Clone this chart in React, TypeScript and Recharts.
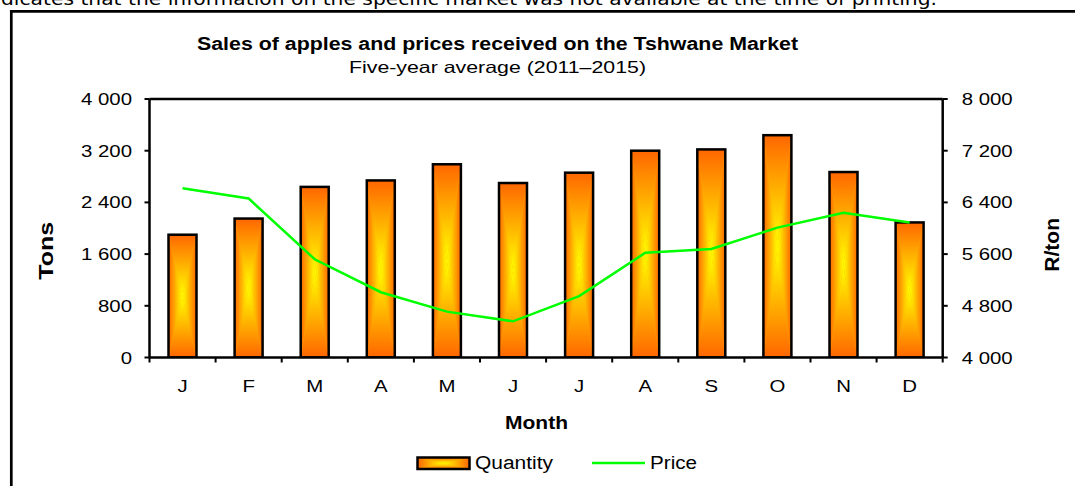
import React from "react";
import { ComposedChart, Bar, Line, XAxis, YAxis, ReferenceLine } from "recharts";

const months = ["J", "F", "M", "A", "M", "J", "J", "A", "S", "O", "N", "D"];
const quantity = [1900, 2150, 2640, 2740, 2990, 2700, 2860, 3200, 3220, 3440, 2870, 2090];
const price = [6620, 6460, 5520, 5010, 4710, 4560, 4950, 5620, 5680, 6010, 6240, 6090];
const tonTicks = [0, 800, 1600, 2400, 3200, 4000];
const priceTicks = [4000, 4800, 5600, 6400, 7200, 8000];

const data = months.map((m, i) => ({ i, month: m, quantity: quantity[i], price: price[i] }));

const W = 1075;
const H = 486;
// plot area edges
const PL = 149.5;
const PR = 942.7;
const PT = 99;
const PB = 357.5;
const AXW = 80;
const XH = 40;
const band = (PR - PL) / months.length;

const FONT = "'Liberation Sans', Arial, sans-serif";
const SX = 1.2; // the source is a bit wider than tall

const fmt = (n: number) => String(n).replace(/\B(?=(\d{3})+(?!\d))/g, " ");

const stretch = (x: number) => `translate(${x},0) scale(${SX},1) translate(${-x},0)`;

const YTick = (props: any) => {
  const { x, y, payload, textAnchor } = props;
  return (
    <text x={x} y={y} dy="0.355em" textAnchor={textAnchor} fontSize={17} fontFamily={FONT} fill="#000" transform={stretch(x)}>
      {fmt(payload.value)}
    </text>
  );
};

const XTick = (props: any) => {
  const { x, y, payload, index } = props;
  return (
    <g>
      <line x1={x - band / 2} x2={x - band / 2} y1={PB} y2={PB + 5} stroke="#000" strokeWidth={2} />
      {index === months.length - 1 && (
        <line x1={x + band / 2} x2={x + band / 2} y1={PB} y2={PB + 5} stroke="#000" strokeWidth={2} />
      )}
      <text x={x} y={y} dy="0.71em" textAnchor="middle" fontSize={17} fontFamily={FONT} fill="#000" transform={stretch(x)}>
        {months[payload.value]}
      </text>
    </g>
  );
};

// rectangular "from centre" fill: yellow in the middle, orange at the edges
const GradBar = (props: any) => {
  const { x, y, width, height } = props;
  if (!height || height <= 0) return null;
  const cx = x + width / 2;
  const cy = y + height / 2;
  const x2 = x + width;
  const y2 = y + height;
  return (
    <g>
      <rect x={x} y={y} width={width} height={height} fill="#FFA800" />
      <polygon points={`${x},${y} ${cx},${cy} ${x},${y2}`} fill="url(#gL)" />
      <polygon points={`${x2},${y} ${cx},${cy} ${x2},${y2}`} fill="url(#gR)" />
      <polygon points={`${x},${y} ${x2},${y} ${cx},${cy}`} fill="url(#gT)" />
      <polygon points={`${x},${y2} ${x2},${y2} ${cx},${cy}`} fill="url(#gB)" />
      <rect x={x} y={y} width={width} height={height} fill="none" stroke="#000" strokeWidth={2.5} />
    </g>
  );
};

const EDGE = "#FF6600";
const MID = "#FFFF00";

export default function App() {
  return (
    <div style={{ position: "absolute", left: 0, top: 0, width: W, height: H, overflow: "hidden", background: "#fff" }}>
      <svg width={W} height={H} style={{ position: "absolute", left: 0, top: 0 }}>
        <defs>
          <linearGradient id="gL" x1="0" y1="0" x2="1" y2="0">
            <stop offset="0" stopColor={EDGE} />
            <stop offset="1" stopColor={MID} />
          </linearGradient>
          <linearGradient id="gR" x1="1" y1="0" x2="0" y2="0">
            <stop offset="0" stopColor={EDGE} />
            <stop offset="1" stopColor={MID} />
          </linearGradient>
          <linearGradient id="gT" x1="0" y1="0" x2="0" y2="1">
            <stop offset="0" stopColor={EDGE} />
            <stop offset="1" stopColor={MID} />
          </linearGradient>
          <linearGradient id="gB" x1="0" y1="1" x2="0" y2="0">
            <stop offset="0" stopColor={EDGE} />
            <stop offset="1" stopColor={MID} />
          </linearGradient>
        </defs>
        <text x={1} y={4.5} fontSize={17} fontFamily="'DejaVu Sans', sans-serif" fill="#000" textLength={936} lengthAdjust="spacingAndGlyphs">
          dicates that the information on the specific market was not available at the time of printing.
        </text>
        <line x1={11.3} y1={10} x2={11.3} y2={H} stroke="#000" strokeWidth={2.7} />
        <line x1={10} y1={11.3} x2={W} y2={11.3} stroke="#000" strokeWidth={2.7} />
      </svg>

      <div style={{ position: "absolute", left: 0, top: 0 }}>
        <ComposedChart
          width={W}
          height={H}
          data={data}
          margin={{ top: PT, right: W - PR - AXW, bottom: H - PB - XH, left: PL - AXW }}
          barCategoryGap={0}
        >
          <XAxis
            dataKey="i"
            type="category"
            height={XH}
            axisLine={{ stroke: "#000", strokeWidth: 2.5 }}
            tickLine={false}
            tickMargin={16}
            interval={0}
            tick={XTick}
          />
          <YAxis
            yAxisId="left"
            orientation="left"
            width={AXW}
            domain={[0, 4000]}
            ticks={tonTicks}
            interval={0}
            allowDataOverflow
            axisLine={{ stroke: "#000", strokeWidth: 2.5 }}
            tickLine={{ stroke: "#000", strokeWidth: 2 }}
            tickSize={5}
            tickMargin={12.5}
            tick={YTick}
          />
          <YAxis
            yAxisId="right"
            orientation="right"
            width={AXW}
            domain={[4000, 8000]}
            ticks={priceTicks}
            interval={0}
            allowDataOverflow
            axisLine={{ stroke: "#000", strokeWidth: 2.5 }}
            tickLine={{ stroke: "#000", strokeWidth: 2 }}
            tickSize={5}
            tickMargin={14}
            tick={YTick}
          />
          <ReferenceLine yAxisId="left" y={4000} stroke="#000" strokeWidth={2.5} />
          <Bar yAxisId="left" dataKey="quantity" barSize={28} shape={GradBar} isAnimationActive={false} />
          <Line
            yAxisId="right"
            type="linear"
            dataKey="price"
            stroke="#00FF00"
            strokeWidth={2.5}
            dot={false}
            activeDot={false}
            isAnimationActive={false}
          />
        </ComposedChart>
      </div>

      <svg width={W} height={H} style={{ position: "absolute", left: 0, top: 0, pointerEvents: "none" }}>
        <text x={497.5} y={50} textAnchor="middle" fontSize={18} fontWeight="bold" fontFamily={FONT} fill="#000" textLength={601} lengthAdjust="spacingAndGlyphs">
          Sales of apples and prices received on the Tshwane Market
        </text>
        <text x={497.5} y={73.3} textAnchor="middle" fontSize={16.5} fontFamily={FONT} fill="#000" textLength={297} lengthAdjust="spacingAndGlyphs">
          Five-year average (2011–2015)
        </text>
        <text x={536.5} y={429.3} textAnchor="middle" fontSize={18} fontWeight="bold" fontFamily={FONT} fill="#000" textLength={63} lengthAdjust="spacingAndGlyphs">
          Month
        </text>
        <text transform="translate(53,250.8) rotate(-90)" textAnchor="middle" fontSize={21} fontWeight="bold" fontFamily={FONT} fill="#000" textLength={58} lengthAdjust="spacingAndGlyphs">
          Tons
        </text>
        <text transform="translate(1059.3,244.8) rotate(-90)" textAnchor="middle" fontSize={21} fontWeight="bold" fontFamily={FONT} fill="#000" textLength={53.7} lengthAdjust="spacingAndGlyphs">
          R/ton
        </text>
        {GradBar({ x: 417.5, y: 457.5, width: 52, height: 11.5 })}
        <text x={475} y={469} fontSize={18} fontFamily={FONT} fill="#000" textLength={78} lengthAdjust="spacingAndGlyphs">
          Quantity
        </text>
        <line x1={592} x2={645} y1={463} y2={463} stroke="#00FF00" strokeWidth={2.5} />
        <text x={650} y={469} fontSize={18} fontFamily={FONT} fill="#000" textLength={47} lengthAdjust="spacingAndGlyphs">
          Price
        </text>
      </svg>
    </div>
  );
}
